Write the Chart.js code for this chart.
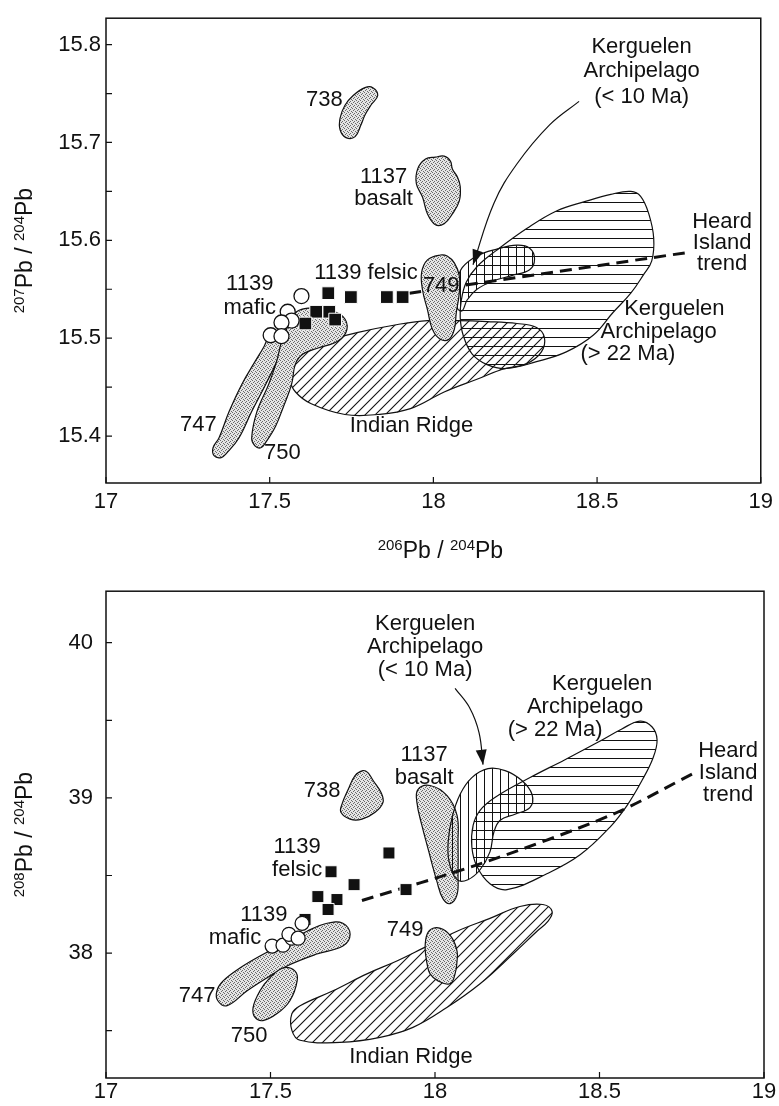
<!DOCTYPE html>
<html>
<head>
<meta charset="utf-8">
<title>Pb isotope fields</title>
<script src="https://cdn.jsdelivr.net/npm/chart.js@4.4.1/dist/chart.umd.min.js"></script>
<style>
  html, body { margin: 0; padding: 0; background: #fff; overflow: hidden; }
  .panel { position: absolute; left: 0; }
  #panelTop { top: 0; }
  #panelBottom { top: 565px; }
</style>
</head>
<body>
<div class="panel" id="panelTop"><canvas id="pb207" width="779" height="565"></canvas></div>
<div class="panel" id="panelBottom"><canvas id="pb208" width="779" height="541"></canvas></div>
<script>
const FONT = '"Liberation Sans", Arial, Helvetica, sans-serif';

// shared 206Pb/204Pb axis
const xTicks = [17, 17.5, 18, 18.5, 19];
// axis titles: [mass number, element] pairs, mass number set as superscript
const title206 = [['206', 'Pb'], ['204', 'Pb']];
const title207 = [['207', 'Pb'], ['204', 'Pb']];
const title208 = [['208', 'Pb'], ['204', 'Pb']];

// ---------- 207Pb/204Pb vs 206Pb/204Pb ----------
const y207Major = [15.4, 15.5, 15.6, 15.7, 15.8];
const y207Minor = [15.45, 15.55, 15.65, 15.75];

const felsic207 = [[17.679, 15.546], [17.748, 15.542], [17.858, 15.542], [17.906, 15.542],
  [17.642, 15.527], [17.682, 15.527], [17.700, 15.519], [17.609, 15.515]];
const mafic207 = [[17.597, 15.543], [17.555, 15.527], [17.567, 15.518], [17.536, 15.516],
  [17.503, 15.503], [17.536, 15.502]];

const site738_207 = [[17.830, 15.748], [17.815, 15.756], [17.791, 15.756], [17.755, 15.748], [17.730, 15.738],
  [17.715, 15.725], [17.715, 15.713], [17.733, 15.705], [17.761, 15.706], [17.779, 15.718], [17.791, 15.728], [17.809, 15.738]];
const site1137_207 = [[18.006, 15.685], [17.976, 15.683], [17.952, 15.673], [17.948, 15.658], [17.967, 15.644],
  [17.982, 15.627], [18.006, 15.616], [18.033, 15.617], [18.058, 15.627], [18.079, 15.640], [18.082, 15.655],
  [18.073, 15.665], [18.058, 15.673], [18.052, 15.681], [18.033, 15.686]];
const site749_207 = [[18.021, 15.585], [17.982, 15.580], [17.964, 15.567], [17.967, 15.549], [17.982, 15.529],
  [17.997, 15.509], [18.021, 15.499], [18.048, 15.499], [18.064, 15.509], [18.070, 15.526], [18.079, 15.546],
  [18.079, 15.564], [18.064, 15.577], [18.042, 15.584]];
const site747_207 = [[17.330, 15.380], [17.327, 15.388], [17.345, 15.398], [17.376, 15.425], [17.415, 15.453],
  [17.455, 15.476], [17.482, 15.491], [17.497, 15.501], [17.518, 15.506], [17.536, 15.499], [17.527, 15.481],
  [17.488, 15.453], [17.445, 15.425], [17.406, 15.398], [17.370, 15.383], [17.352, 15.378]];
const site750_207 = [[17.455, 15.390], [17.445, 15.398], [17.461, 15.425], [17.497, 15.453], [17.521, 15.476],
  [17.536, 15.496], [17.558, 15.514], [17.582, 15.527], [17.627, 15.531], [17.679, 15.529], [17.724, 15.522],
  [17.736, 15.509], [17.709, 15.497], [17.648, 15.490], [17.603, 15.484], [17.579, 15.474], [17.567, 15.453],
  [17.542, 15.430], [17.518, 15.410], [17.491, 15.395], [17.473, 15.388]];
const indianRidge207 = [[17.564, 15.471], [17.579, 15.484], [17.618, 15.491], [17.679, 15.498], [17.770, 15.506],
  [17.891, 15.514], [17.982, 15.518], [18.073, 15.518], [18.164, 15.517], [18.255, 15.515], [18.315, 15.511],
  [18.339, 15.501], [18.330, 15.486], [18.285, 15.474], [18.209, 15.468], [18.133, 15.458], [18.033, 15.445],
  [17.930, 15.428], [17.830, 15.422], [17.730, 15.422], [17.627, 15.433], [17.579, 15.445], [17.561, 15.458]];
const kergOld207 = [[18.082, 15.521], [18.085, 15.538], [18.100, 15.557], [18.133, 15.573], [18.194, 15.590],
  [18.285, 15.612], [18.376, 15.630], [18.467, 15.640], [18.542, 15.647], [18.603, 15.650], [18.633, 15.645],
  [18.658, 15.627], [18.673, 15.602], [18.667, 15.579], [18.642, 15.565], [18.603, 15.546], [18.548, 15.526],
  [18.488, 15.503], [18.406, 15.486], [18.315, 15.476], [18.224, 15.469], [18.164, 15.473], [18.118, 15.484],
  [18.091, 15.503]];
const kergYoung207 = [[18.073, 15.531], [18.073, 15.557], [18.088, 15.572], [18.133, 15.584], [18.194, 15.591],
  [18.255, 15.595], [18.294, 15.592], [18.309, 15.581], [18.294, 15.570], [18.239, 15.564], [18.179, 15.558],
  [18.133, 15.550], [18.103, 15.539], [18.088, 15.528]];
const heardTrend207 = [[17.927, 15.546], [18.785, 15.588]];
const arrow207 = [[18.445, 15.742], [18.355, 15.718], [18.255, 15.678], [18.185, 15.638], [18.121, 15.575]];

const notes207 = [
  ['738', 17.667, 15.743], ['1137', 17.848, 15.665], ['basalt', 17.848, 15.642],
  ['Kerguelen', 18.636, 15.798], ['Archipelago', 18.636, 15.773], ['(< 10 Ma)', 18.636, 15.747],
  ['Heard', 18.882, 15.619], ['Island', 18.882, 15.597], ['trend', 18.882, 15.576],
  ['1139 felsic', 17.794, 15.567], ['1139', 17.439, 15.555], ['mafic', 17.439, 15.531],
  ['749', 18.024, 15.553],
  ['Kerguelen', 18.736, 15.530], ['Archipelago', 18.688, 15.506], ['(> 22 Ma)', 18.594, 15.484],
  ['747', 17.282, 15.411], ['750', 17.539, 15.383], ['Indian Ridge', 17.933, 15.410]
];

// ---------- 208Pb/204Pb vs 206Pb/204Pb ----------
const y208Major = [38, 39, 40];
const y208Minor = [37.5, 38.5, 39.5];

const felsic208 = [[17.684, 38.524], [17.754, 38.441], [17.644, 38.364], [17.702, 38.345],
  [17.675, 38.281], [17.860, 38.645], [17.912, 38.409], [17.605, 38.217]];
const mafic208 = [[17.505, 38.045], [17.538, 38.051], [17.565, 38.096], [17.556, 38.121],
  [17.584, 38.096], [17.596, 38.192]];

const site738_208 = [[17.781, 39.176], [17.757, 39.144], [17.736, 39.054], [17.717, 38.958], [17.714, 38.907],
  [17.742, 38.863], [17.778, 38.863], [17.818, 38.907], [17.842, 38.971], [17.836, 39.035], [17.812, 39.112],
  [17.796, 39.163]];
const site1137_208 = [[17.948, 39.054], [17.985, 39.080], [18.036, 39.016], [18.067, 38.888], [18.070, 38.716],
  [18.070, 38.505], [18.067, 38.377], [18.046, 38.319], [18.024, 38.351], [18.006, 38.460], [17.979, 38.671],
  [17.960, 38.824], [17.945, 38.971]];
const site749_208 = [[17.994, 38.160], [17.976, 38.121], [17.970, 38.032], [17.976, 37.930], [17.985, 37.866],
  [18.009, 37.821], [18.046, 37.802], [18.061, 37.866], [18.067, 37.949], [18.067, 38.013], [18.052, 38.096],
  [18.024, 38.153]];
const site747_208 = [[17.337, 37.757], [17.356, 37.821], [17.407, 37.904], [17.468, 37.981], [17.538, 38.058],
  [17.611, 38.141], [17.672, 38.192], [17.720, 38.192], [17.742, 38.121], [17.720, 38.045], [17.641, 37.994],
  [17.550, 37.917], [17.489, 37.840], [17.429, 37.757], [17.368, 37.661], [17.340, 37.693]];
const site750_208 = [[17.538, 37.904], [17.574, 37.885], [17.581, 37.821], [17.559, 37.693], [17.520, 37.610],
  [17.477, 37.565], [17.453, 37.585], [17.447, 37.649], [17.468, 37.757], [17.498, 37.840]];
const indianRidge208 = [[17.565, 37.610], [17.590, 37.661], [17.690, 37.757], [17.793, 37.866], [17.884, 37.949],
  [17.964, 38.032], [18.067, 38.141], [18.167, 38.224], [18.258, 38.300], [18.328, 38.313], [18.356, 38.268],
  [18.343, 38.204], [18.310, 38.141], [18.237, 37.994], [18.137, 37.802], [18.036, 37.649], [17.933, 37.521],
  [17.833, 37.457], [17.711, 37.425], [17.590, 37.438], [17.565, 37.502]];
const kergYoung208 = [[18.067, 38.473], [18.043, 38.588], [18.040, 38.716], [18.052, 38.875], [18.076, 39.022],
  [18.112, 39.131], [18.161, 39.189], [18.213, 39.176], [18.264, 39.112], [18.295, 39.022], [18.289, 38.939],
  [18.243, 38.895], [18.198, 38.856], [18.179, 38.780], [18.167, 38.652], [18.137, 38.537], [18.100, 38.473]];
const kergOld208 = [[18.112, 38.684], [18.116, 38.824], [18.137, 38.920], [18.182, 39.003], [18.289, 39.131],
  [18.395, 39.246], [18.492, 39.355], [18.568, 39.444], [18.623, 39.495], [18.660, 39.457], [18.675, 39.374],
  [18.663, 39.259], [18.629, 39.112], [18.584, 38.952], [18.532, 38.812], [18.441, 38.633], [18.340, 38.511],
  [18.219, 38.409], [18.167, 38.447], [18.128, 38.556]];
const heardTrend208 = [[17.778, 38.339], [18.137, 38.575], [18.541, 38.895], [18.790, 39.163]];
const arrow208 = [[18.061, 39.706], [18.106, 39.578], [18.134, 39.419], [18.146, 39.214]];

const notes208 = [
  ['738', 17.657, 39.042], ['1137', 17.967, 39.278], ['basalt', 17.967, 39.131],
  ['Kerguelen', 17.970, 40.121], ['Archipelago', 17.970, 39.974], ['(< 10 Ma)', 17.970, 39.827],
  ['Kerguelen', 18.508, 39.732], ['Archipelago', 18.456, 39.585], ['(> 22 Ma)', 18.365, 39.438],
  ['Heard', 18.891, 39.304], ['Island', 18.891, 39.163], ['trend', 18.891, 39.016],
  ['1139', 17.581, 38.684], ['felsic', 17.581, 38.537], ['1139', 17.480, 38.243], ['mafic', 17.392, 38.096],
  ['747', 17.277, 37.725], ['750', 17.435, 37.463], ['749', 17.909, 38.147], ['Indian Ridge', 17.927, 37.329]
];

// ---------- fill patterns ----------
function makePattern(size, paint) {
  const c = document.createElement('canvas');
  c.width = size; c.height = size;
  const g = c.getContext('2d');
  paint(g, size);
  return g.createPattern(c, 'repeat');
}
const stipple = makePattern(4, (g) => {
  g.fillStyle = '#e4e4e4'; g.fillRect(0, 0, 4, 4);
  g.fillStyle = '#6a6a6a';
  [[0, 0], [2, 1], [1, 2], [3, 3]].forEach(([x, y]) => g.fillRect(x, y, 1, 1));
});
const hatchDiag = makePattern(10, (g, s) => {
  g.strokeStyle = '#111'; g.lineWidth = 1.1;
  g.beginPath();
  g.moveTo(-1, s + 1); g.lineTo(s + 1, -1);
  g.moveTo(-1, 1); g.lineTo(1, -1);
  g.moveTo(s - 1, s + 1); g.lineTo(s + 1, s - 1);
  g.stroke();
});
const hatchHoriz = makePattern(9, (g, s) => { g.fillStyle = '#111'; g.fillRect(0, 4, s, 1); });
const hatchVert = makePattern(8, (g, s) => { g.fillStyle = '#111'; g.fillRect(4, 0, 1, s); });

// ---------- dataset helpers ----------
const toXY = (pts) => pts.map(([x, y]) => ({x, y}));

function field(pts, pattern, order) {
  return {
    data: toXY(pts), showLine: true, closed: true, fill: 'shape',
    backgroundColor: pattern, borderColor: '#111', borderWidth: 1.2,
    tension: 0.4, pointRadius: 0, pointHoverRadius: 0, order
  };
}
function dashed(pts, order) {
  return {
    data: toXY(pts), showLine: true, fill: false, borderColor: '#111', borderWidth: 3,
    borderDash: [12, 7], tension: 0.3, pointRadius: 0, pointHoverRadius: 0, order
  };
}
function arrowLine(pts, order) {
  return {
    data: toXY(pts), showLine: true, fill: false, borderColor: '#111', borderWidth: 1.2,
    tension: 0.4, pointRadius: 0, pointHoverRadius: 0, arrowHead: true, order
  };
}
function squares(pts, r, order) {
  return {
    data: toXY(pts), pointStyle: 'rect', pointRadius: r, pointHoverRadius: r,
    backgroundColor: '#111', borderColor: '#fff', borderWidth: 1, order
  };
}
function circles(pts, r, order) {
  return {
    data: toXY(pts), pointStyle: 'circle', pointRadius: r, pointHoverRadius: r,
    backgroundColor: '#fff', borderColor: '#111', borderWidth: 1.3, order
  };
}

// turn the outlines into closed loops so the smoothing wraps round
const closedOutline = {
  id: 'closedOutline',
  afterDatasetUpdate(chart, args) {
    const ds = chart.data.datasets[args.index];
    const line = args.meta.dataset;
    if (ds.closed && line) {
      line._loop = true;
      line._fullLoop = true;
      delete line._segments;
      delete line._path;
      line._pointsUpdated = false;
    }
  }
};

// "206Pb / 204Pb" with the mass numbers raised and smaller
function drawRatio(ctx, pairs, cx, cy, rotation) {
  const big = '23px ' + FONT, small = '15px ' + FONT;
  const pieces = [];
  pairs.forEach(([mass, el], i) => {
    pieces.push([mass, small, -8]);
    pieces.push([el + (i < pairs.length - 1 ? ' / ' : ''), big, 0]);
  });
  let total = 0;
  pieces.forEach(p => { ctx.font = p[1]; p.push(ctx.measureText(p[0]).width); total += p[3]; });
  ctx.save();
  ctx.translate(cx, cy);
  ctx.rotate(rotation);
  ctx.textAlign = 'left';
  ctx.textBaseline = 'alphabetic';
  let x = -total / 2;
  pieces.forEach(([text, font, dy, w]) => {
    ctx.font = font;
    ctx.fillText(text, x, 8 + dy);
    x += w;
  });
  ctx.restore();
}

// frame, inward tick marks, text labels, arrow heads and axis titles
const annotate = {
  id: 'annotate',
  afterDatasetsDraw(chart, args, opts) {
    const {ctx, chartArea: a} = chart;
    const sx = chart.scales.x, sy = chart.scales.y;
    ctx.save();
    ctx.strokeStyle = '#111';
    ctx.lineWidth = 1.2;
    ctx.beginPath();
    sx.ticks.forEach(t => {
      const px = sx.getPixelForValue(t.value);
      ctx.moveTo(px, a.bottom); ctx.lineTo(px, a.bottom - 6);
    });
    sy.ticks.forEach(t => {
      const py = sy.getPixelForValue(t.value);
      ctx.moveTo(a.left, py); ctx.lineTo(a.left + 6, py);
    });
    ctx.stroke();
    ctx.lineWidth = 1.5;
    ctx.strokeRect(a.left, a.top, a.right - a.left, a.bottom - a.top);

    chart.data.datasets.forEach((ds, i) => {
      if (!ds.arrowHead) return;
      const pts = chart.getDatasetMeta(i).data;
      const tip = pts[pts.length - 1], prev = pts[pts.length - 2];
      const ang = Math.atan2(tip.y - prev.y, tip.x - prev.x);
      ctx.save();
      ctx.translate(tip.x, tip.y);
      ctx.rotate(ang);
      ctx.beginPath();
      ctx.moveTo(0, 0); ctx.lineTo(-15, -5.5); ctx.lineTo(-15, 5.5); ctx.closePath();
      ctx.fillStyle = '#111';
      ctx.fill();
      ctx.restore();
    });

    ctx.fillStyle = '#111';
    ctx.font = '22px ' + FONT;
    ctx.textAlign = 'center';
    ctx.textBaseline = 'middle';
    (opts.notes || []).forEach(([text, vx, vy]) => {
      ctx.fillText(text, sx.getPixelForValue(vx), sy.getPixelForValue(vy));
    });

    drawRatio(ctx, opts.yTitle, 24, (a.top + a.bottom) / 2, -Math.PI / 2);
    if (opts.xTitle) drawRatio(ctx, opts.xTitle, (a.left + a.right) / 2 + 7, a.bottom + 67, 0);
    ctx.restore();
  }
};

function buildPanel(canvasId, p) {
  const ticksY = [...p.yMajor, ...p.yMinor].sort((a, b) => a - b);
  return new Chart(document.getElementById(canvasId), {
    type: 'scatter',
    data: { datasets: p.datasets },
    options: {
      responsive: false,
      animation: false,
      events: [],
      layout: { padding: p.padding },
      plugins: {
        legend: { display: false },
        tooltip: { enabled: false },
        annotate: { notes: p.notes, xTitle: p.xTitle, yTitle: p.yTitle }
      },
      scales: {
        x: {
          type: 'linear', min: 17, max: 19,
          afterBuildTicks: ax => { ax.ticks = xTicks.map(v => ({ value: v })); },
          afterFit: ax => { ax.height = p.xHeight; },
          grid: { display: false, drawTicks: false }, border: { display: false },
          ticks: {
            autoSkip: false, maxRotation: 0, padding: p.xTickPad, color: '#111',
            font: { family: FONT, size: 22 }, callback: v => String(v)
          }
        },
        y: {
          type: 'linear', min: p.yMin, max: p.yMax,
          afterBuildTicks: ax => { ax.ticks = ticksY.map(v => ({ value: v })); },
          afterFit: ax => { ax.width = 106; },
          grid: { display: false, drawTicks: false }, border: { display: false },
          ticks: {
            autoSkip: false, padding: p.yTickPad, color: '#111',
            font: { family: FONT, size: 22 },
            callback: v => p.yMajor.includes(v) ? String(v) : ''
          }
        }
      }
    },
    plugins: [closedOutline, annotate]
  });
}

buildPanel('pb207', {
  yMin: 15.352, yMax: 15.827, yMajor: y207Major, yMinor: y207Minor,
  padding: { left: 0, top: 12, right: 13, bottom: 0 },
  xHeight: 82, xTickPad: 6, yTickPad: 5,
  xTitle: title206, yTitle: title207,
  notes: notes207,
  datasets: [
    circles(mafic207, 7.5, 1),
    squares(felsic207, 9, 2),
    field(site749_207, stipple, 5),
    field(site738_207, stipple, 6),
    field(site1137_207, stipple, 6),
    field(site750_207, stipple, 6),
    field(site747_207, stipple, 6),
    dashed(heardTrend207, 7),
    arrowLine(arrow207, 7),
    field(kergYoung207, hatchVert, 8),
    field(kergOld207, hatchHoriz, 9),
    field(indianRidge207, hatchDiag, 10)
  ]
});

buildPanel('pb208', {
  yMin: 37.195, yMax: 40.332, yMajor: y208Major, yMinor: y208Minor,
  padding: { left: 0, top: 22, right: 15, bottom: 0 },
  xHeight: 28, xTickPad: 1, yTickPad: 13,
  xTitle: null, yTitle: title208,
  notes: notes208,
  datasets: [
    circles(mafic208, 7, 1),
    squares(felsic208, 8.5, 2),
    dashed(heardTrend208, 5),
    arrowLine(arrow208, 5),
    field(site749_208, stipple, 6),
    field(kergYoung208, hatchVert, 7),
    field(kergOld208, hatchHoriz, 8),
    field(site738_208, stipple, 9),
    field(site1137_208, stipple, 9),
    field(site750_208, stipple, 9),
    field(site747_208, stipple, 9),
    field(indianRidge208, hatchDiag, 10)
  ]
});
</script>
</body>
</html>
